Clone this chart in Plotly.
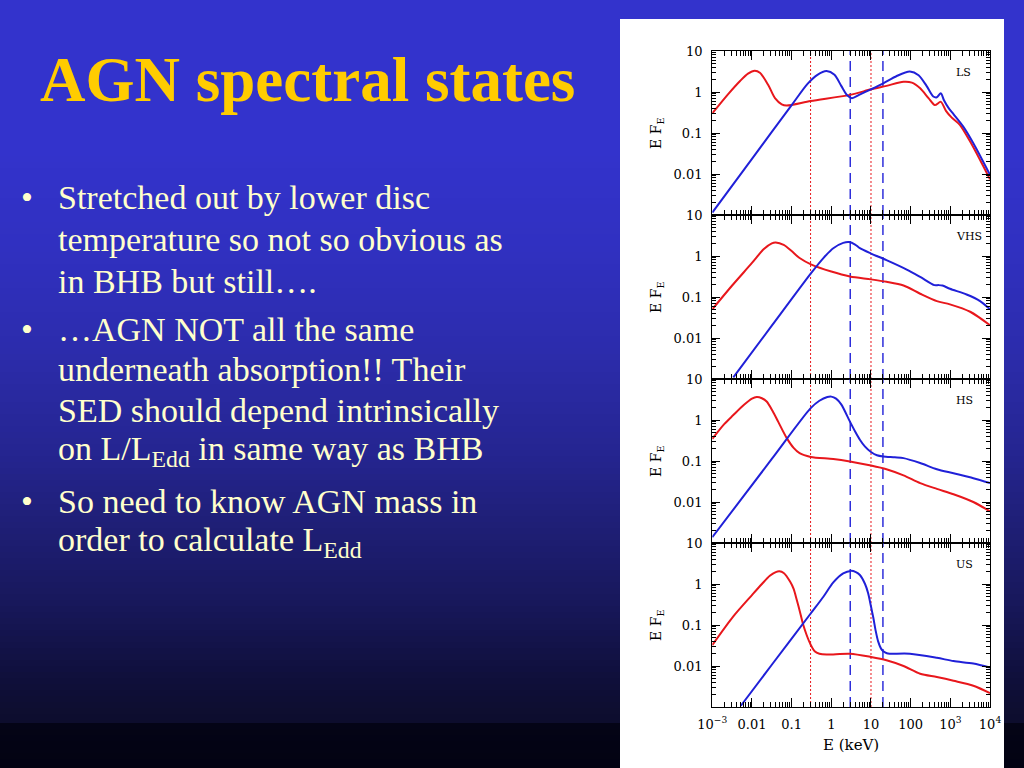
import plotly.graph_objects as go

# ---------------- data (log10 units) ----------------
STATES = ["LS", "VHS", "HS", "US"]

LS_RED_LOGE = [-3.0, -2.6, -2.3, -2.1, -1.93, -1.8, -1.59, -1.42, -1.25, -1.13, -0.52, 0.47, 1.0, 1.39, 1.82, 2.03, 2.24, 2.45, 2.61, 2.76, 2.89, 3.03, 3.24, 3.5, 3.75, 4.0]
LS_RED_LOGF = [-0.52, -0.05, 0.27, 0.45, 0.52, 0.47, 0.17, -0.15, -0.30, -0.33, -0.22, -0.07, 0.065, 0.15, 0.25, 0.23, 0.09, -0.15, -0.32, -0.24, -0.46, -0.62, -0.80, -1.21, -1.66, -2.13]
LS_BLUE_LOGE = [-3.0, -2.0, -1.0, -0.6, -0.35, -0.12, 0.08, 0.25, 0.4, 0.52, 0.7, 1.0, 1.31, 1.65, 1.98, 2.2, 2.4, 2.57, 2.66, 2.76, 2.84, 2.95, 3.08, 3.33, 3.58, 4.0]
LS_BLUE_LOGF = [-2.94, -1.63, -0.32, 0.20, 0.42, 0.51, 0.42, 0.15, -0.08, -0.15, -0.07, 0.065, 0.21, 0.39, 0.50, 0.41, 0.15, -0.11, -0.13, -0.03, -0.20, -0.38, -0.54, -0.85, -1.25, -2.02]

VHS_RED_LOGE = [-3.0, -2.5, -2.0, -1.7, -1.5, -1.4, -1.2, -1.0, -0.8, -0.5, 0.0, 0.47, 1.0, 1.39, 1.82, 2.24, 2.66, 2.99, 3.5, 4.0]
VHS_RED_LOGF = [-1.30, -0.72, -0.17, 0.17, 0.31, 0.33, 0.27, 0.12, -0.05, -0.21, -0.38, -0.50, -0.57, -0.63, -0.72, -0.92, -1.10, -1.18, -1.36, -1.69]
VHS_BLUE_LOGE = [-2.47, -1.5, -0.52, -0.2, 0.05, 0.3, 0.45, 0.6, 0.72, 1.0, 1.39, 1.9, 2.24, 2.6, 2.7, 2.8, 2.99, 3.41, 3.75, 4.0]
VHS_BLUE_LOGF = [-2.96, -1.70, -0.43, -0.05, 0.19, 0.32, 0.34, 0.28, 0.19, 0.06, -0.10, -0.33, -0.51, -0.71, -0.71, -0.72, -0.80, -0.94, -1.10, -1.30]

HS_RED_LOGE = [-3.0, -2.7, -2.47, -2.2, -2.0, -1.88, -1.75, -1.63, -1.48, -1.34, -1.13, -0.95, -0.8, -0.52, 0.05, 0.47, 1.0, 1.39, 1.82, 2.24, 2.66, 3.08, 3.58, 4.0]
HS_RED_LOGF = [-0.46, -0.10, 0.12, 0.37, 0.52, 0.56, 0.53, 0.45, 0.22, -0.04, -0.43, -0.68, -0.81, -0.90, -0.95, -1.01, -1.11, -1.20, -1.35, -1.54, -1.68, -1.81, -2.00, -2.23]
HS_BLUE_LOGE = [-3.0, -1.5, -0.52, -0.3, -0.1, 0.0, 0.12, 0.25, 0.47, 0.6, 0.72, 0.85, 1.0, 1.15, 1.31, 1.6, 1.82, 2.24, 2.66, 3.08, 3.58, 4.0]
HS_BLUE_LOGF = [-2.86, -0.95, 0.29, 0.47, 0.56, 0.57, 0.52, 0.38, -0.04, -0.28, -0.48, -0.65, -0.78, -0.86, -0.89, -0.91, -0.93, -1.05, -1.20, -1.30, -1.42, -1.54]

US_RED_LOGE = [-3.0, -2.47, -2.0, -1.75, -1.55, -1.4, -1.31, -1.2, -1.04, -0.95, -0.87, -0.79, -0.71, -0.62, -0.52, -0.42, -0.3, -0.12, 0.47, 1.0, 1.39, 1.82, 2.24, 2.66, 3.08, 3.58, 4.0]
US_RED_LOGF = [-1.49, -0.79, -0.27, 0.0, 0.20, 0.29, 0.31, 0.27, 0.06, -0.12, -0.39, -0.68, -0.99, -1.25, -1.48, -1.64, -1.70, -1.72, -1.70, -1.78, -1.86, -2.00, -2.19, -2.27, -2.36, -2.48, -2.66]
US_BLUE_LOGE = [-2.28, -1.5, -0.52, -0.2, 0.05, 0.3, 0.49, 0.62, 0.72, 0.85, 0.93, 1.0, 1.06, 1.12, 1.18, 1.25, 1.31, 1.4, 1.48, 1.98, 2.66, 3.08, 3.58, 4.0]
US_BLUE_LOGF = [-2.97, -1.97, -0.72, -0.31, 0.04, 0.26, 0.32, 0.29, 0.22, 0.0, -0.23, -0.55, -0.83, -1.15, -1.40, -1.57, -1.64, -1.69, -1.70, -1.70, -1.80, -1.88, -1.94, -2.04]

RED_DOTTED_E = [0.3, 10]
BLUE_DASHED_E = [3, 20]

X_TICK_VALS = [1e-3, 1e-2, 1e-1, 1, 10, 100, 1e3, 1e4]
X_TICK_TEXT = ["10<sup>−3</sup>", "0.01", "0.1", "1", "10", "100", "10<sup>3</sup>", "10<sup>4</sup>"]
Y_TICK_VALS = [1e-3, 1e-2, 1e-1, 1, 10]
Y_TICK_TEXT = ["", "0.01", "0.1", "1", "10"]

TITLE = "AGN spectral states"
BULLETS = [
    ["Stretched out by lower disc", "temperature so not so obvious as", "in BHB but still…."],
    ["…AGN NOT all the same", "underneath absorption!! Their", "SED should depend intrinsically",
     "on L/L<sub>Edd</sub> in same way as BHB"],
    ["So need to know AGN mass in", "order to calculate L<sub>Edd</sub>"],
]

PANELS = [
    (LS_RED_LOGE, LS_RED_LOGF, LS_BLUE_LOGE, LS_BLUE_LOGF),
    (VHS_RED_LOGE, VHS_RED_LOGF, VHS_BLUE_LOGE, VHS_BLUE_LOGF),
    (HS_RED_LOGE, HS_RED_LOGF, HS_BLUE_LOGE, HS_BLUE_LOGF),
    (US_RED_LOGE, US_RED_LOGF, US_BLUE_LOGE, US_BLUE_LOGF),
]

# ---------------- style ----------------
W, H = 1024, 768
RED = "#E8171C"
BLUE = "#2020D8"
TXT = "#FFFFCC"
SERIF = "Liberation Serif"
PLOTFONT = "DejaVu Serif"


def px_x(v):
    return v / W


def px_y(v):
    return 1 - v / H


PLOT_L, PLOT_R = 712.3, 990.0
PANEL_TOP0, PANEL_H = 51.0, 164.0

fig = go.Figure()
layout = dict(width=W, height=H, autosize=False, margin=dict(l=0, r=0, t=0, b=0, pad=0),
              paper_bgcolor="#3333CC", plot_bgcolor="rgba(0,0,0,0)",
              showlegend=False, shapes=[], annotations=[])

# background gradient
stops = [(0, (51, 51, 204)), (150, (51, 51, 204)), (250, (48, 48, 192)), (350, (44, 44, 172)),
         (450, (37, 37, 145)), (520, (31, 31, 120)), (600, (24, 24, 92)), (680, (15, 15, 58)),
         (722, (13, 13, 45)), (723, (4, 4, 22)), (768, (2, 2, 18))]


def col_at(y):
    for (y0, c0), (y1, c1) in zip(stops[:-1], stops[1:]):
        if y0 <= y <= y1:
            t = 0 if y1 == y0 else (y - y0) / (y1 - y0)
            return "rgb(%d,%d,%d)" % tuple(round(a + (b - a) * t) for a, b in zip(c0, c1))
    return "rgb(2,2,18)"


step = 6
y = 0
while y < H:
    y2 = min(H, y + step)
    if y < 723 < y2:
        y2 = 723
    layout["shapes"].append(dict(type="rect", xref="paper", yref="paper", layer="below",
                                 x0=-0.01, x1=1.01, y0=px_y(min(H, y2 + 1.5)), y1=px_y(y),
                                 fillcolor=col_at((y + y2) / 2), line=dict(width=0)))
    y = y2

# white panel behind the chart
layout["shapes"].append(dict(type="rect", xref="paper", yref="paper", layer="below",
                             x0=px_x(620), x1=px_x(1004), y0=-0.01, y1=px_y(19),
                             fillcolor="white", line=dict(width=0)))

minor_x = [m * 10 ** d for d in range(-3, 4) for m in range(2, 10)]
minor_y = [m * 10 ** d for d in range(-3, 1) for m in range(2, 10)]

for i, (rx, ry, bx, by) in enumerate(PANELS):
    n = "" if i == 0 else str(i + 1)
    xa, ya = "x" + n, "y" + n
    top = PANEL_TOP0 + PANEL_H * i
    bot = top + PANEL_H
    layout["xaxis" + n] = dict(
        type="log", range=[-3, 4], domain=[px_x(PLOT_L), px_x(PLOT_R)], anchor=ya,
        automargin=False,
        showline=True, linecolor="black", linewidth=1.3, mirror="allticks",
        ticks="inside", ticklen=9, tickwidth=1.2, tickcolor="black",
        tickmode="array", tickvals=X_TICK_VALS, ticktext=X_TICK_TEXT,
        showticklabels=(i == 3), showgrid=False, zeroline=False,
        tickfont=dict(family=PLOTFONT, size=13, color="black"), ticklabelstandoff=5,
        minor=dict(ticks="inside", ticklen=5, tickwidth=1, tickcolor="black",
                   tickmode="array", tickvals=minor_x, showgrid=False))
    layout["yaxis" + n] = dict(
        type="log", range=[-3, 1], domain=[px_y(bot), px_y(top)], anchor=xa,
        automargin=False,
        showline=True, linecolor="black", linewidth=1.3, mirror="allticks",
        ticks="inside", ticklen=8, tickwidth=1.2, tickcolor="black",
        tickmode="array", tickvals=Y_TICK_VALS, ticktext=Y_TICK_TEXT,
        showgrid=False, zeroline=False,
        tickfont=dict(family=PLOTFONT, size=13, color="black"), ticklabelstandoff=6,
        minor=dict(ticks="inside", ticklen=4, tickwidth=1, tickcolor="black",
                   tickmode="array", tickvals=minor_y, showgrid=False))

    for e in RED_DOTTED_E:
        fig.add_trace(go.Scatter(x=[e, e], y=[Y_TICK_VALS[0], Y_TICK_VALS[-1]], mode="lines",
                                 line=dict(color=RED, width=1, dash="2px,2px"),
                                 xaxis=xa, yaxis=ya, hoverinfo="skip"))
    for e in BLUE_DASHED_E:
        fig.add_trace(go.Scatter(x=[e, e], y=[Y_TICK_VALS[0], Y_TICK_VALS[-1]], mode="lines",
                                 line=dict(color=BLUE, width=1.4, dash="10px,6px"),
                                 xaxis=xa, yaxis=ya, hoverinfo="skip"))

    fig.add_trace(go.Scatter(x=[10 ** v for v in rx], y=[10 ** v for v in ry], mode="lines",
                             line=dict(color=RED, width=2, shape="spline", smoothing=0.8),
                             xaxis=xa, yaxis=ya, cliponaxis=True))
    fig.add_trace(go.Scatter(x=[10 ** v for v in bx], y=[10 ** v for v in by], mode="lines",
                             line=dict(color=BLUE, width=2, shape="spline", smoothing=0.8),
                             xaxis=xa, yaxis=ya, cliponaxis=True))

    # state label
    layout["annotations"].append(dict(
        xref=xa + " domain", yref=ya + " domain", x=(954 - PLOT_L) / (PLOT_R - PLOT_L),
        y=1 - 21.5 / PANEL_H, xanchor="left", yanchor="middle", showarrow=False,
        text=STATES[i], font=dict(family=PLOTFONT, size=11, color="black")))
    # y-axis title
    layout["annotations"].append(dict(
        xref="paper", yref=ya + " domain", x=px_x(657), y=0.5, xanchor="center",
        yanchor="middle", showarrow=False, textangle=-90,
        text="E F<sub>E</sub>", font=dict(family=PLOTFONT, size=14, color="black")))

# x-axis title
layout["annotations"].append(dict(
    xref="paper", yref="paper", x=px_x((PLOT_L + PLOT_R) / 2), y=px_y(745),
    xanchor="center", yanchor="middle", showarrow=False,
    text="E (keV)", font=dict(family=PLOTFONT, size=15, color="black")))

# slide title
layout["annotations"].append(dict(
    xref="paper", yref="paper", x=px_x(38), y=px_y(80), xanchor="left", yanchor="middle",
    showarrow=False, text=TITLE,
    font=dict(family=SERIF, size=63, color="#FFCC00", weight="bold")))

# bullet text (line centres, px from top)
centres = [[197, 239, 281], [329, 370, 410, 451], [501, 542]]
FS = 34
for lines, cs in zip(BULLETS, centres):
    layout["annotations"].append(dict(
        xref="paper", yref="paper", x=px_x(19), y=px_y(cs[0]), xanchor="left",
        yanchor="middle", showarrow=False, text="•",
        font=dict(family=SERIF, size=FS, color=TXT)))
    for t, c in zip(lines, cs):
        layout["annotations"].append(dict(
            xref="paper", yref="paper", x=px_x(56), y=px_y(c), xanchor="left",
            yanchor="middle", showarrow=False, text=t,
            font=dict(family=SERIF, size=FS, color=TXT)))

fig.update_layout(**layout)
fig.write_html("out.html", config={"displayModeBar": False},
               post_script="document.body.style.margin='0';document.body.style.overflow='hidden';")
